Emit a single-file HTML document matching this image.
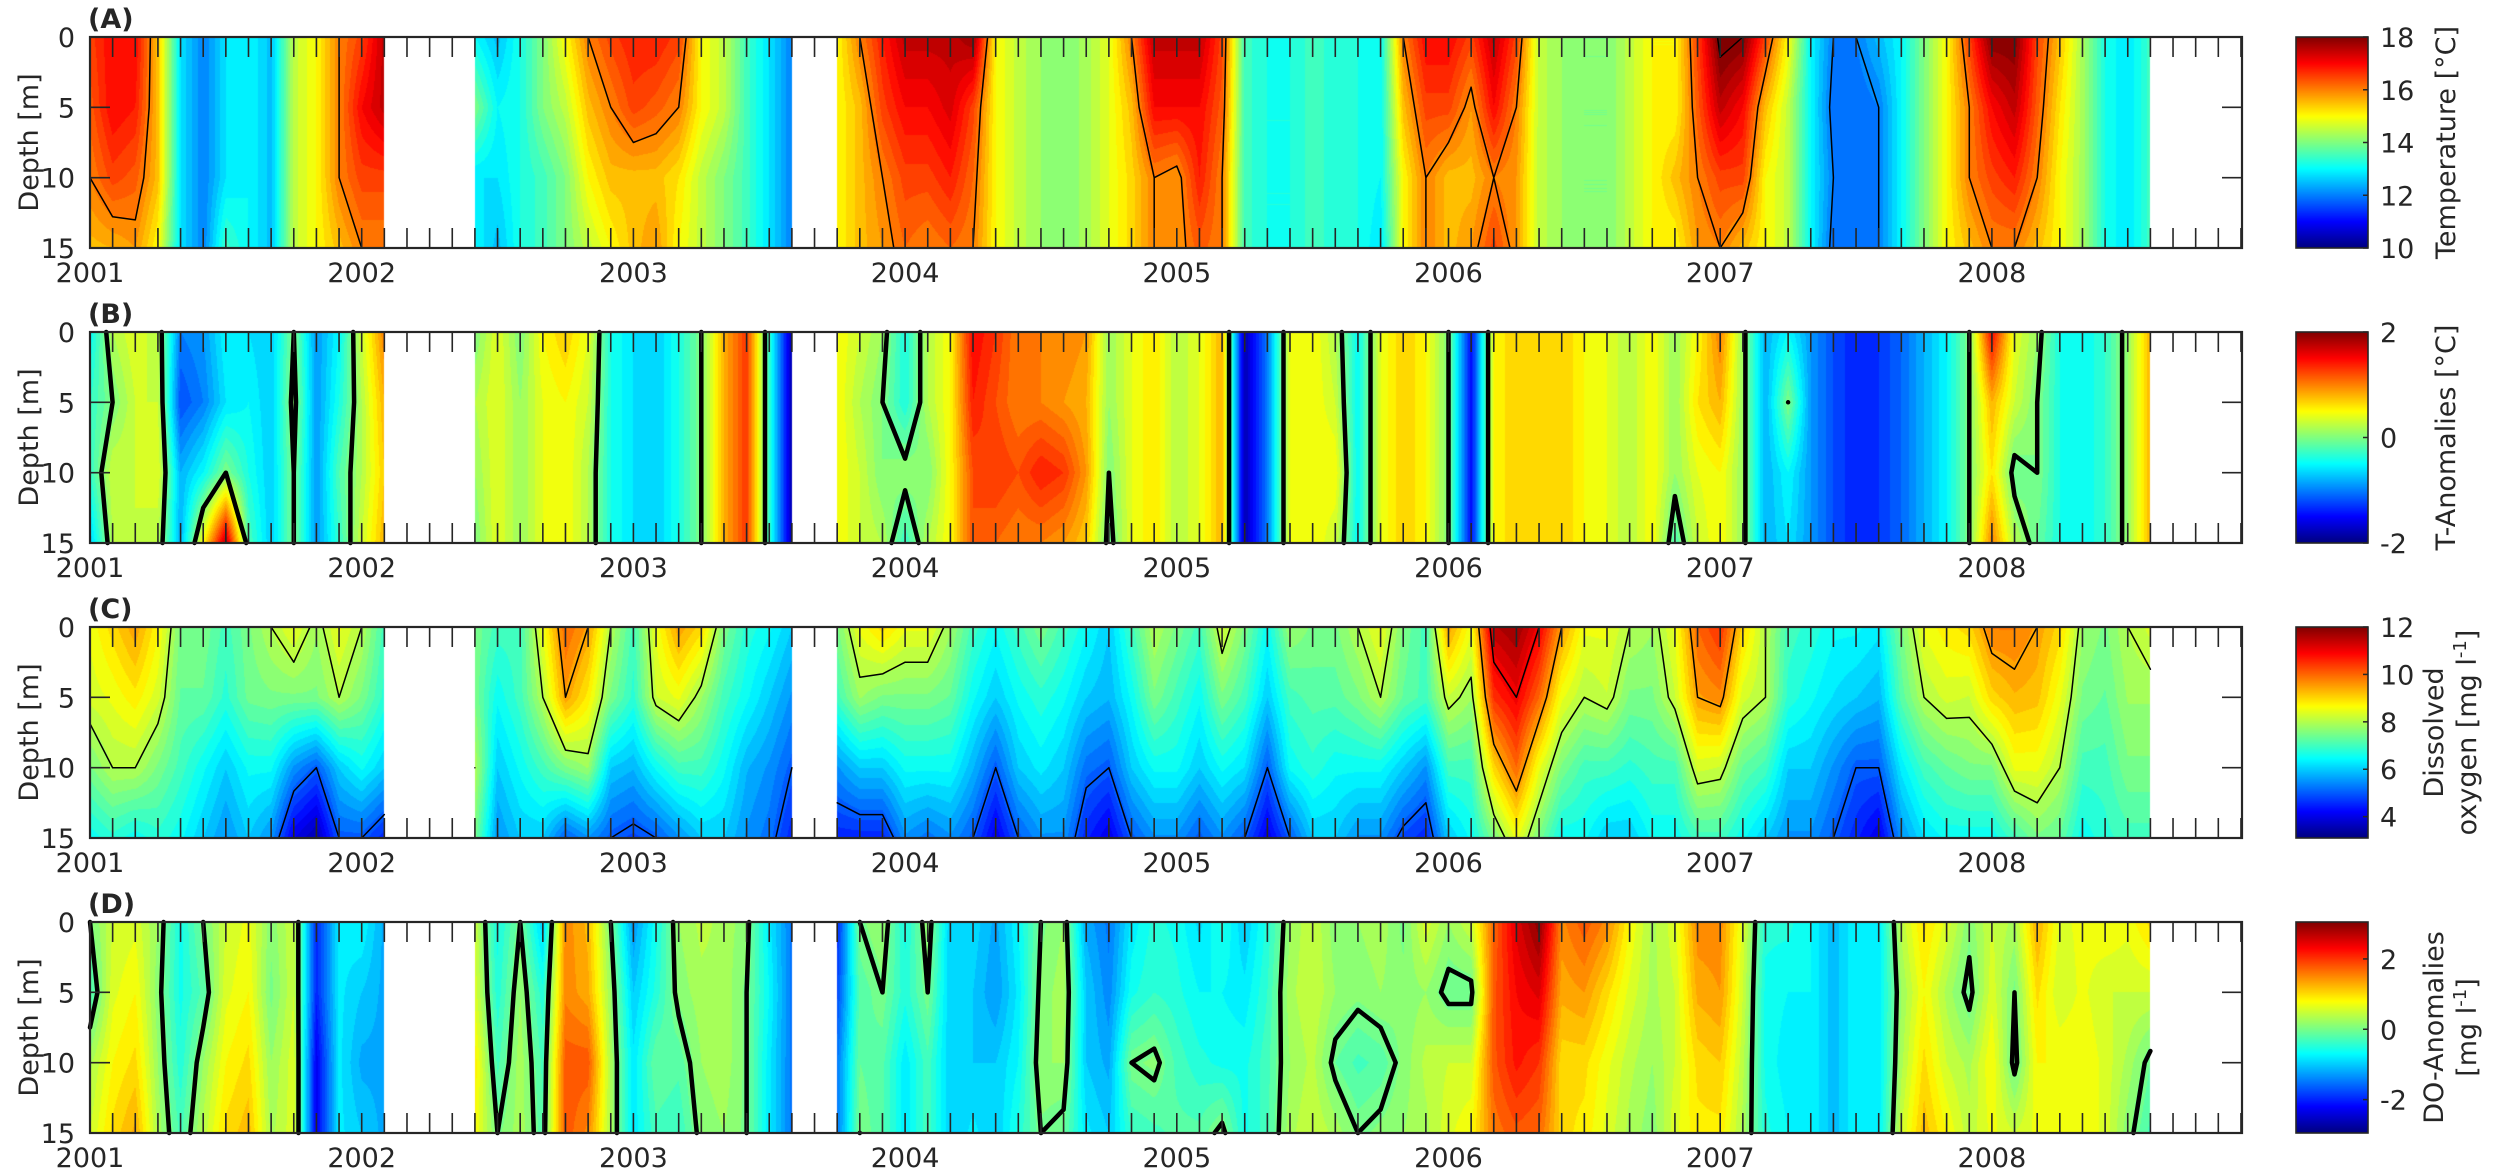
<!DOCTYPE html>
<html><head><meta charset="utf-8"><style>
html,body{margin:0;padding:0;background:#fff;}
#wrap{position:relative;width:2500px;height:1176px;overflow:hidden;}
canvas,svg{position:absolute;left:0;top:0;}
text{font-family:"DejaVu Sans","Liberation Sans",sans-serif;fill:#262626;}
</style></head><body>
<div id="wrap">
<canvas id="cv" width="2500" height="1176"></canvas>
<svg id="sv" width="2500" height="1176" xmlns="http://www.w3.org/2000/svg"></svg>
</div>
<script>
// ---- data: monthly columns from 2001.0, depths 0,5,10,15 m (null = no data)
const years = [2001,2002,2003,2004,2005,2006,2007,2008];
const depths = [0,5,10,15];
const N = null;
const tempD0 = [16.5,17,17,15.5,12.8,12,12.8,13,12.5,14.5,15,16,16.5,17.5,N,N,N,13,12.5,13.2,14,15,16,16.5,16.8,16.8,16.5,15,14.5,13.5,12.8,12,N,15,16,16.8,17.5,17.5,17.5,17.8,15,14.5,14.2,14,14.3,14.8,16,17.5,17.5,17.5,16.5,13.5,13.2,13.2,13.5,13.3,13.2,13,16,17,17,16.5,17.5,16.5,14.5,14.2,14,14,14.5,15,15,16.5,18.2,18,16.5,15,13,12,12,12.5,13,14,15,16.5,18,18,16.5,15.5,14.3,13.2,12.8,13.5];
const tempD5 = [16.3,17,16.8,15.5,12.8,12,12.8,13,12.5,14.5,15,16,17,17.5,N,N,N,14,13,13.2,14,14.5,15.5,16,16.5,16.3,16,15,14.5,13.5,12.8,12,N,15,15.5,16.5,17,17,17.3,16.5,15,14.5,14.2,14,14.3,14.8,15.5,17,17,17,16.3,13.5,13.2,13.2,13.5,13.3,13.2,13,15.5,16.5,16.5,15.8,17,16,14.5,14.2,14,14,14.5,15,15,16.3,17.5,17,15.5,14.5,13,11.8,11.8,12,13,14,15,16,17,17.5,16.3,15.2,14.3,13.2,12.8,13.5];
const tempD10 = [16,16.5,16.3,15.5,12.8,12,12.8,13,12.5,14.5,15,16,16.5,16.5,N,N,N,12.8,12.8,13.2,13.5,14,15,15.5,15.5,15.5,15.2,14.5,14,13.5,12.8,12,N,15,15.5,16,16.5,16.5,16.8,16.2,15,14.5,14.2,14,14.3,14.8,15.3,16,15.8,16.8,16,13.5,13.2,13.2,13.5,13.3,13.2,13,15,16,15.5,15.5,16,15.8,14.5,14.2,14,14,14.5,15,15.5,16,16.5,16.5,15,14.5,13,12,11.8,12,13,14,15,16,16.5,16.8,16,15,14.3,13.2,12.8,13.5];
const tempD15 = [15.5,15.6,15.8,15,12.8,12,13.5,13,12.5,14.5,15,15.5,16,16,N,N,N,13,12.5,13.2,13.5,14,14.5,15,15.5,15.8,15,14.5,14,13.5,12.8,12,N,15,15.5,15.8,16.2,16,16.2,16,15,14.5,14.2,14,14.3,14.8,15.3,16,15.8,16.3,16,13.5,13.2,13.2,13.5,13.3,13.2,12.8,15,16,15.5,15.8,16.5,15.8,14.5,14.2,14,14,14.5,15,15,15.8,16,15.5,15,14.5,13,11.8,11.8,12,13,14,15,15.5,16,16,15.5,15,14.3,13.2,12.8,13.5];

const tanD0 = [-0.5,0.2,0.4,0.2,-1,-0.9,-0.5,-0.6,-0.7,0,-0.9,-0.5,0.3,1,N,N,N,0,0.4,0,0.5,0.7,0.4,-0.4,-0.6,-0.7,-0.4,0,0.8,1.3,-0.3,-1.8,N,0.5,0.3,0.1,-0.4,0.2,0.5,1.5,1.3,1,1,1,0.9,0.1,0.4,0.6,0.2,0.4,0.8,-1.8,-1,0.4,0.5,0.2,-0.5,0.4,0.7,0.5,0,-1.5,0.5,0.7,0.6,0.7,0.5,0.4,0.2,0.5,0.1,0.5,1,0.1,-0.8,-0.5,-0.9,-1.2,-1.4,-1.3,-1.1,-0.8,-0.5,0,1.5,0.4,0.1,-0.4,-0.5,-0.3,0.1,0.8];
const tanD5 = [-0.3,0,0.3,0.3,-1.2,-1,-0.6,-0.5,-0.7,0.1,-0.9,-0.4,0.2,0.8,N,N,N,0.2,0.4,0.1,0.4,0.5,0.3,-0.4,-0.6,-0.7,-0.4,0,0.8,1.3,-0.3,-1.8,N,0.5,0.2,0,-0.4,0.2,0.5,1.4,1.2,1,1,0.9,0.8,0.1,0.4,0.6,0.2,0.4,0.8,-1.8,-1,0.4,0.5,0.3,-0.5,0.4,0.7,0.5,0,-1.5,0.5,0.7,0.6,0.7,0.5,0.4,0.2,0.5,0.1,0.6,0.8,0.1,-0.8,0,-0.9,-1.2,-1.4,-1.3,-1.1,-0.8,-0.5,0,0.8,0.3,0,-0.4,-0.5,-0.3,0.1,0.8];
const tanD10 = [-0.3,0.3,0.3,0.4,-0.8,-0.5,0,-0.4,-0.7,0,-0.9,-0.2,0.2,0.7,N,N,N,0.1,0.4,0.1,0.4,0.5,0.2,-0.4,-0.6,-0.7,-0.4,0,0.8,1.3,-0.3,-1.8,N,0.5,0.3,0,0.1,0,0.5,1.2,1.3,1.2,1.4,1.3,0.9,0,0.4,0.6,0.2,0.4,0.8,-1.8,-1,0.4,0.5,0.5,-0.5,0.4,0.7,0.5,0,-1.5,0.5,0.7,0.6,0.7,0.5,0.4,0.2,0.5,0.1,0.4,0.5,0.1,-0.8,-0.5,-0.9,-1.2,-1.4,-1.3,-1.1,-0.8,-0.5,0,0.6,-0.1,0,-0.4,-0.5,-0.3,0.1,0.8];
const tanD15 = [-0.7,0.2,0.3,0.2,-0.8,0.5,1.8,-0.2,-0.7,0,-0.9,-0.3,0.3,0.8,N,N,N,0,0.4,0.1,0.4,0.5,0.2,-0.4,-0.6,-0.7,-0.4,0,0.8,1.3,-0.3,-1.8,N,0.5,0.3,0.2,-0.3,0.2,0.5,1.2,1.1,1,1,0.9,0.7,-0.1,0.4,0.6,0.2,0.4,0.8,-1.8,-1,0.4,0.5,0.3,-0.5,0.4,0.7,0.5,0,-1.5,0.5,0.7,0.6,0.7,0.5,0.4,0.2,0.5,-0.2,0.3,0.5,0.1,-0.8,-0.6,-0.9,-1.2,-1.4,-1.3,-1.1,-0.8,-0.5,0,1,0.2,-0.1,-0.4,-0.5,-0.3,0.1,0.8];

const doD0 = [8.5,9,9.5,8.7,7.5,7.5,7,7.5,8,8.5,7.8,8.5,8,7,N,N,N,7.5,7,7,8.5,10,9.5,8,7,8.5,9.5,9,7.5,6.8,6.5,6,N,7.5,8.5,9,8.5,8.5,7.8,7,6.5,7,7.5,7,6.5,6,7,8,7.5,7,8.3,7.5,6.5,7.8,7.5,7.5,8,8.5,7.5,7,9.5,8.5,11.5,11.8,11,9.5,8.5,8.5,8,7.8,8.5,10,10.5,9,8,7,6.8,6.5,6.5,6.3,7.5,8.5,8.8,9,9.8,9.8,9.5,9,7.8,7.5,8,8.3];
const doD5 = [8.3,8.5,8.8,8.3,7.3,7.3,6.8,7.4,7.5,7.5,7.5,8,7.5,6.8,N,N,N,7.5,6.5,7,8,9.5,8.8,7.5,6.8,8.2,8.5,7.8,7,6.5,6,5.5,N,7,7.8,7.5,7.5,7.5,7.3,6.5,6,6.5,6.8,6.5,6,5.8,6.5,7.5,7,6.5,7.5,7,6,7,7.2,7.2,7.5,8,7.3,7,8.2,7.8,10.5,11,10,8.5,8,8.2,7.5,7.5,8.2,9.5,9.7,8.3,8,6.8,6.5,6.2,6,5.8,7.2,8,8.3,8.2,9,9.3,9.2,8.5,7.5,7.3,7.8,7.8];
const doD10 = [7.5,8,8,7.5,7,6.5,6,6.5,6.5,5.5,5,6,6.5,6,N,N,N,8,6,6.5,7,7.5,7.8,6,5.8,6.5,7,7,6.5,5.8,5.5,5,N,5.5,6,6,6.5,6.5,6.5,5.8,5,6,6.3,6,5.2,5,6,6.5,6.5,6,6.5,6.2,5,6.5,6.8,6.5,6.5,6.5,6,5.5,7,7,9,10,8.5,7.5,7,7,6.8,7,7,8.3,8.2,7.3,7,6,6,5.5,5,5,6.3,7,7.3,7.5,7.5,8.5,8.5,8,7,7,7.5,7.5];
const doD15 = [6.5,6.8,6.5,6.8,6.5,6,5.5,6,5.5,4,3.5,5,5,4.5,N,N,N,7.5,5.5,6,6,5,5.5,5,4.8,5,5.5,6,6,5.5,5.2,4.5,N,4.5,4.5,4.5,5.5,5.2,5.5,5,4,5,5.5,5.5,4.5,4,5,5.5,5.5,5,5.5,5,4,5,6,6,5.5,5.5,4.8,4.5,6,6.5,7.5,8.5,7.5,6.5,6.5,6,6,6.5,6.5,7,7,6.5,6,5.5,5.5,5,4.5,4,5.5,6.2,6.5,6.5,6.5,7,7.5,7.3,6.5,6.8,7,7];

const doaD0 = [0,0.5,0.6,0.2,-0.6,0,0.5,0.7,0.1,0.5,-2,-0.8,-0.7,-1.2,N,N,N,0.5,-0.6,0,-1,1.5,1.2,0,-1.3,-0.6,0.2,0.4,0.3,0.1,-0.8,-1.5,N,-2,0,0.2,-0.6,0.2,-1,-0.9,-1.2,-0.7,0,0.2,-1.2,-1.5,-0.8,-0.5,-0.6,-0.9,-0.5,-1,-0.5,0.2,0.5,0.1,0.2,0.3,0,0.6,0.2,0.5,1.7,2.5,3,1.5,1.8,1.5,0.8,0.3,0.6,1.5,1.5,0.6,-0.5,-0.5,-0.7,-1.1,-0.7,-0.8,0.4,1,0.6,0.1,0.5,0.3,1.3,0.6,0.7,0.8,0.7,1];
const doaD5 = [-0.3,0.6,0.8,0.1,-0.6,-0.2,0.6,0.8,0,0.5,-2,-0.8,-1,-1.2,N,N,N,0.6,-0.5,0.2,-0.5,1.5,1.3,0.2,-1,-0.5,0.1,0.3,0.3,0,-0.7,-1.5,N,-1.8,-0.2,0,-0.5,0,-1,-1,-1.3,-0.8,0.1,0.3,-1,-1.4,-0.6,-0.4,-0.5,-0.7,-0.7,-0.8,-0.4,0.3,0.5,0.2,0.1,0.2,0.1,0.2,-0.1,-0.1,1.8,2.3,2.5,1.3,1.4,1,0.6,0.3,0.5,1.3,1.4,0.5,-0.6,-0.7,-0.7,-1.1,-0.7,-0.8,0.2,0.8,0.3,-0.1,0.6,0,1,0.5,0.7,0.5,0.5,0.5];
const doaD10 = [0.3,0.8,1,0.2,-0.5,0.2,0.8,1,0.2,0.6,-2.3,-0.8,-1.2,-1.2,N,N,N,0.9,-0.3,0.3,-0.3,1.8,1.8,0.3,-0.8,-0.1,-0.2,0.2,0.3,0,-0.8,-1.5,N,-1.5,-0.1,-0.2,-0.8,-0.3,-1,-1,-1,-0.7,0.2,0.2,-1,-1.2,0,0.1,-0.3,-0.5,-0.6,-0.6,-0.3,0.2,0.4,-0.1,-0.3,-0.2,0.1,0.4,0.5,0.5,1.8,2.2,2,1,1,0.7,0.4,0.2,0.5,1,1.1,0.4,-0.6,-0.8,-0.7,-1.1,-0.7,-0.8,0.3,1,0.5,0.3,0.8,-0.1,0.8,0.8,0.8,0.6,0.3,-0.1];
const doaD15 = [0.5,1,1.3,0.3,-0.3,0.4,1,1.2,0.3,0.6,-2.3,-0.8,-1,-1.2,N,N,N,0.8,0,0.3,-0.2,1.8,1.5,0.3,-0.8,-0.3,-0.4,0.1,0.2,0,-0.8,-1.5,N,-1.5,0,-0.2,-0.8,-0.3,-1,-0.8,-1,-0.5,0,-0.1,-0.8,-1,-0.4,-0.3,-0.2,-0.2,0.1,-0.6,-0.3,0.3,0.5,0.3,0,0.1,0.2,0.3,0.6,0.8,1.6,1.8,1.7,1,0.9,0.6,0.3,0.1,0.6,0.9,0.9,0.3,-0.5,-0.7,-0.7,-1.1,-0.7,-0.8,0.5,1.2,0.8,0.4,0.7,0.5,0.7,0.7,0.8,0.6,0.1,-0.3];

const panels = [
  {id:'A', top:37, rows:[tempD0,tempD5,tempD10,tempD15], vmin:10, vmax:18, cticks:[10,12,14,16,18], levels:[12,16,18], lw:1.5, label:['Temperature [°C]']},
  {id:'B', top:332, rows:[tanD0,tanD5,tanD10,tanD15], vmin:-2, vmax:2, cticks:[-2,0,2], levels:[0], lw:4.5, label:['T-Anomalies [°C]']},
  {id:'C', top:627, rows:[doD0,doD5,doD10,doD15], vmin:3.1, vmax:12, cticks:[4,6,8,10,12], levels:[5,8,9.5,11], lw:1.5, label:['Dissolved','oxygen [mg l','-1',']']},
  {id:'D', top:922, rows:[doaD0,doaD5,doaD10,doaD15], vmin:-2.95, vmax:3.05, cticks:[-2,0,2], levels:[0], lw:4.5, label:['DO-Anomalies','[mg l','-1',']']}
];
const X0=90, X1=2242, PXYR=271.7, H=211, CBX=2296, CBW=72;
const xOf = m => X0 + m/12*PXYR;
function jet(t){t=Math.max(0,Math.min(1,t));const c=v=>Math.round(255*Math.max(0,Math.min(1,v)));
  return [c(1.5-Math.abs(4*t-3)),c(1.5-Math.abs(4*t-2)),c(1.5-Math.abs(4*t-1))];}
const NS='http://www.w3.org/2000/svg';
const svg=document.getElementById('sv');
function el(tag,attrs,parent){const e=document.createElementNS(NS,tag);for(const k in attrs)e.setAttribute(k,attrs[k]);(parent||svg).appendChild(e);return e;}

const cv=document.getElementById('cv');const ctx=cv.getContext('2d');
ctx.fillStyle='#fff';ctx.fillRect(0,0,2500,1176);
const img=ctx.getImageData(0,0,2500,1176);const D=img.data;

panels.forEach(p=>{
  const nCols=p.rows[0].length;
  const levelsN=40;
  for(let px=X0;px<X1;px++){
    const m=(px+0.5-X0)/PXYR*12; const i=Math.floor(m); if(i<0||i>=nCols-1) continue;
    const f=m-i;
    let ok=true; for(let r=0;r<4;r++){ if(p.rows[r][i]===null||p.rows[r][i+1]===null) ok=false; }
    if(!ok) continue;
    for(let py=p.top;py<p.top+H;py++){
      const d=(py+0.5-p.top)/H*15; let j=Math.min(2,Math.floor(d/5)); const g=(d-j*5)/5;
      const a=p.rows[j][i]*(1-f)+p.rows[j][i+1]*f, b=p.rows[j+1][i]*(1-f)+p.rows[j+1][i+1]*f;
      let v=a*(1-g)+b*g; let t=(v-p.vmin)/(p.vmax-p.vmin); t=Math.floor(t*levelsN)/levelsN+0.5/levelsN;
      const c=jet(t); const k=(py*2500+px)*4; D[k]=c[0];D[k+1]=c[1];D[k+2]=c[2];D[k+3]=255;
    }
  }
  for(let py=p.top;py<p.top+H;py++){const t=1-(py+0.5-p.top)/H;const c=jet(t);
    for(let px=CBX;px<CBX+CBW;px++){const k=(py*2500+px)*4;D[k]=c[0];D[k+1]=c[1];D[k+2]=c[2];D[k+3]=255;}}
});
ctx.putImageData(img,0,0);

panels.forEach(p=>{
  const g=el('g',{});  
  const yOf=d=>p.top+d/15*H;
  const cg=el('g',{stroke:'#000','stroke-width':p.lw,fill:'none','stroke-linecap':'round'},g);
   
  const nCols=p.rows[0].length; let dstr='';
  p.levels.forEach(L0=>{
    const L=L0-1e-4;
    for(let i=0;i<nCols-1;i++)for(let j=0;j<3;j++){
      const v00=p.rows[j][i],v10=p.rows[j][i+1],v01=p.rows[j+1][i],v11=p.rows[j+1][i+1];
      if([v00,v10,v01,v11].some(v=>v===null)) continue;
      const pts=[];
      const edge=(va,vb,xa,ya,xb,yb)=>{ if((va-L)*(vb-L)<0){const s=(L-va)/(vb-va);pts.push([xa+(xb-xa)*s,ya+(yb-ya)*s]);} };
      const xa=xOf(i),xb=xOf(i+1),ya=yOf(depths[j]),yb=yOf(depths[j+1]);
      edge(v00,v10,xa,ya,xb,ya); edge(v10,v11,xb,ya,xb,yb); edge(v11,v01,xb,yb,xa,yb); edge(v01,v00,xa,yb,xa,ya);
      for(let q=0;q+1<pts.length;q+=2) dstr+=`M${pts[q][0].toFixed(1)} ${pts[q][1].toFixed(1)}L${pts[q+1][0].toFixed(1)} ${pts[q+1][1].toFixed(1)}`;
    }
  });
  const cp=el('path',{d:dstr},cg);  
  let td='';
  for(let m=0;m<=Math.floor((X1-X0)/PXYR*12);m++){const x=xOf(m);td+=`M${x} ${p.top}v20M${x} ${p.top+H}v-20`;}
  [5,10].forEach(d=>{const y=yOf(d);td+=`M${X0} ${y}h20M${X1} ${y}h-20`;});
  const tk=el('path',{d:td,stroke:'#262626','stroke-width':1.6,fill:'none'},g);  
  const fr=el('rect',{x:X0,y:p.top,width:X1-X0,height:H,fill:'none',stroke:'#262626','stroke-width':2.2},g);
   
  const tt=el('text',{x:88,y:p.top-9,'font-size':27,'font-weight':'bold'},g); tt.textContent='('+p.id+')';
   
  depths.forEach(d=>{const t=el('text',{x:75,y:yOf(d)+10,'font-size':27,'text-anchor':'end'},g);t.textContent=d;
     });
  const yl=el('text',{x:0,y:0,'font-size':27,'text-anchor':'middle',transform:`translate(38,${p.top+H/2}) rotate(-90)`},g); yl.textContent='Depth [m]';
   
  years.forEach((yr,k)=>{const t=el('text',{x:X0+k*PXYR,y:p.top+H+34,'font-size':27,'text-anchor':'middle'},g);t.textContent=yr;
     });
  const cb=el('rect',{x:CBX,y:p.top,width:CBW,height:H,fill:'none',stroke:'#262626','stroke-width':1.6},g);
   
  p.cticks.forEach(v=>{const y=p.top+H-(v-p.vmin)/(p.vmax-p.vmin)*H;
    const tl=el('path',{d:`M${CBX+CBW} ${y}h-5`,stroke:'#262626','stroke-width':1.5},g);
     
    const t=el('text',{x:CBX+CBW+12,y:y+10,'font-size':27},g);t.textContent=v;
     });
  let lab;
  if(p.label.length===1){
    lab=el('text',{x:0,y:0,'font-size':27,'text-anchor':'middle',transform:`translate(2455,${p.top+H/2}) rotate(-90)`},g); lab.textContent=p.label[0];
  } else {
    lab=el('text',{x:0,y:0,'font-size':27,'text-anchor':'middle',transform:`translate(2443,${p.top+H/2}) rotate(-90)`},g);
    const t1=el('tspan',{x:0,dy:0},lab); t1.textContent=p.label[0];
    const t2=el('tspan',{x:0,dy:33},lab); t2.textContent=p.label[1];
    const t3=el('tspan',{dy:-10,'font-size':18},lab); t3.textContent=p.label[2];
    const t4=el('tspan',{dy:10},lab); t4.textContent=p.label[3];
  }
   
});
</script>
</body></html>
